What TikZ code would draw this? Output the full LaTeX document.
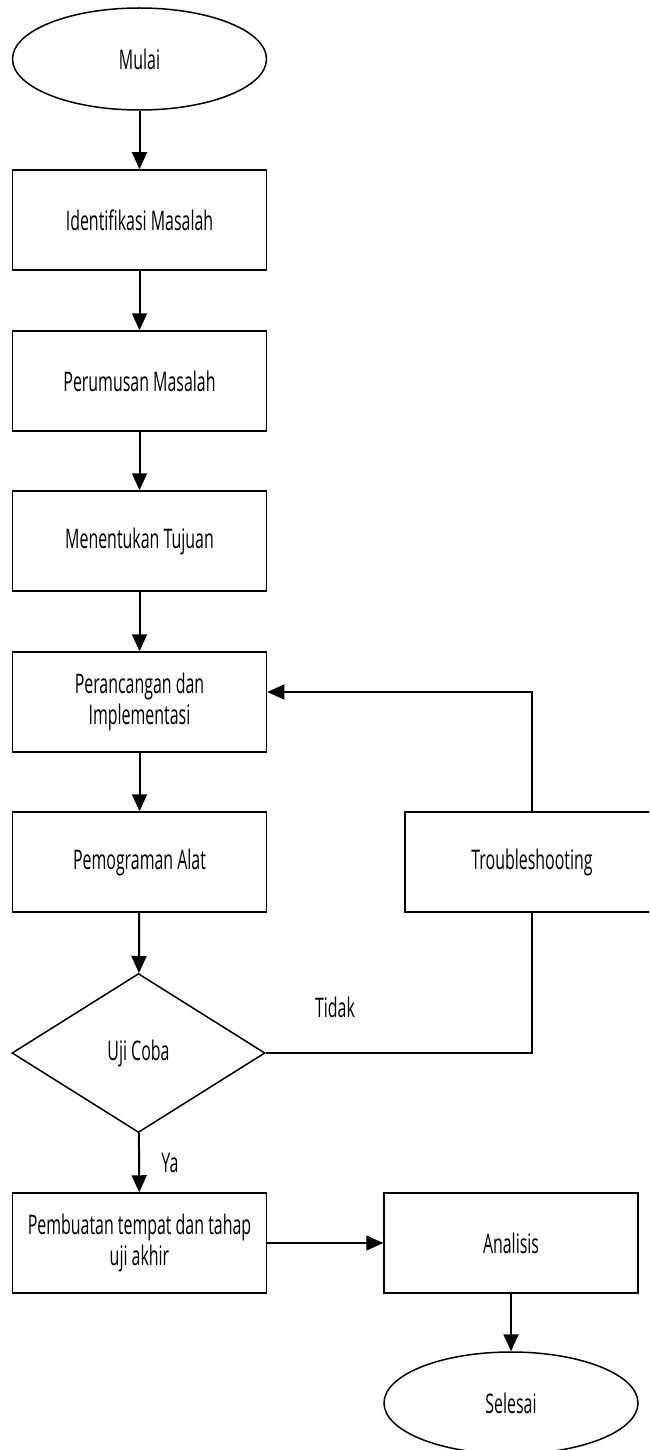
\documentclass[tikz,border=0pt]{standalone}
\usepackage{fontspec}
\setmainfont{Open Sans}[FakeStretch=0.59]
\usetikzlibrary{arrows.meta,shapes.geometric}
\tikzset{>={Triangle[width=15pt,length=17pt]}}

\begin{document}
\begin{tikzpicture}[x=1pt,y=-1pt,
  teks/.style={font=\fontsize{27}{31}\selectfont},
  proses/.style={teks,draw,line width=1.5pt,minimum width=254pt,minimum height=100pt,
    inner sep=0pt,align=center},
  terminal/.style={proses,ellipse,minimum height=102pt},
  keputusan/.style={proses,diamond,minimum width=253pt,minimum height=159pt},
  alur/.style={->,line width=2pt},
  garis/.style={line width=1.3pt}]
  \useasboundingbox (0,0) rectangle (649,1450);
  \clip (0,0) rectangle (649,1450);
  % kolom kiri
  \node[terminal]  (mulai)        at (139.5,59)   {Mulai};
  \node[proses]    (identifikasi) at (139.5,220)  {Identifikasi Masalah};
  \node[proses]    (perumusan)    at (139.5,381)  {Perumusan Masalah};
  \node[proses]    (tujuan)       at (139.5,541)  {Menentukan Tujuan};
  \node[proses]    (perancangan)  at (139.5,702)  {Perancangan dan\\Implementasi};
  \node[proses]    (pemograman)   at (139.5,862)  {Pemograman Alat};
  \node[keputusan] (ujicoba)      at (138.5,1053) {Uji Coba};
  \node[proses]    (pembuatan)    at (139.5,1243) {Pembuatan tempat dan tahap\\uji akhir};
  % kolom kanan
  \node[proses]    (trouble)      at (532,862)    {Troubleshooting};
  \node[proses]    (analisis)     at (511,1243)   {Analisis};
  \node[terminal]  (selesai)      at (511,1403)   {Selesai};
  % panah utama
  \draw[alur] (mulai) -- (identifikasi);
  \draw[alur] (identifikasi) -- (perumusan);
  \draw[alur] (perumusan) -- (tujuan);
  \draw[alur] (tujuan) -- (perancangan);
  \draw[alur] (perancangan) -- (pemograman);
  \draw[alur] (pemograman) -- (ujicoba);
  \draw[alur] (ujicoba) -- node[teks,right,xshift=18pt]{Ya} (pembuatan);
  \draw[garis,->] (pembuatan) -- (analisis);
  \draw[alur] (analisis) -- (selesai);
  % jalur tidak
  \draw[garis] (ujicoba.east) -| (trouble.south);
  \draw[garis,->] (trouble.north) |- ([yshift=10pt]perancangan.east);
  \node[teks] (tidak) at (335,1007) {Tidak};
\end{tikzpicture}
\end{document}
